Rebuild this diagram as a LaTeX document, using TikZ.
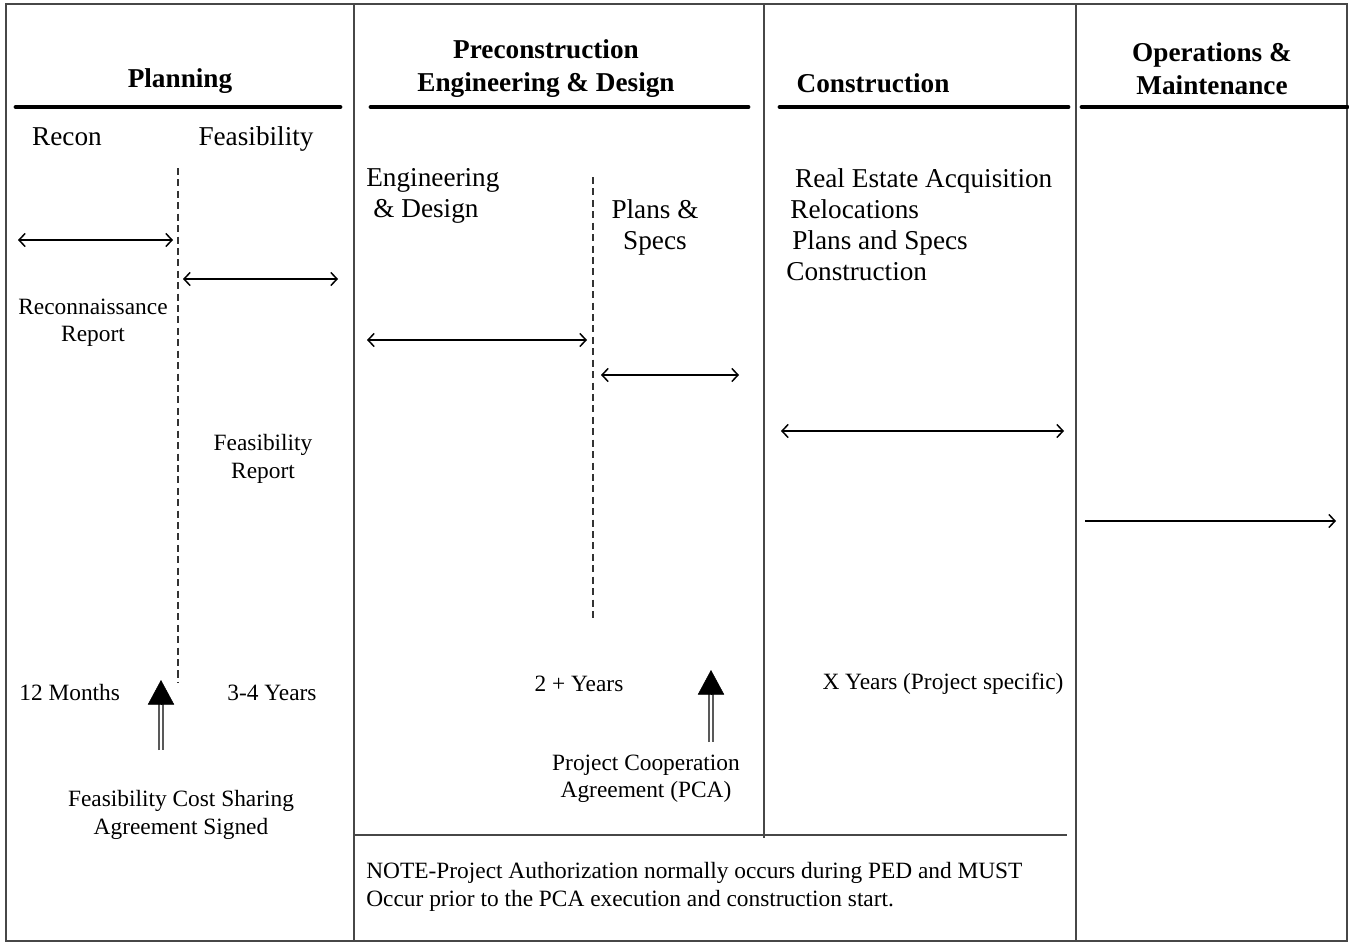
\documentclass[tikz,border=0pt]{standalone}
\usepackage{fontspec}
\setmainfont{Liberation Serif}
\usetikzlibrary{arrows.meta,positioning,calc}

\begin{document}
\begin{tikzpicture}[
  x=0.02cm, y=-0.02cm,
  inner sep=0pt,
  frame/.style={draw=black!72, line width=1.1pt},
  bar/.style={line width=2.8pt, line cap=round},
  phase/.style={font=\fontsize{15.5}{18.7}\selectfont\bfseries, align=center, yshift=-1.6pt},
  big/.style={font=\fontsize{15.5}{17.6}\selectfont, align=center, yshift=-1.6pt},
  small/.style={font=\fontsize{13.3}{15.5}\selectfont, align=center, yshift=-1.6pt},
  span/.style={{Straight Barb[length=3.5pt,width=7.5pt]}-{Straight Barb[length=3.5pt,width=7.5pt]}, line width=0.85pt},
  onward/.style={-{Straight Barb[length=3.5pt,width=7.5pt]}, line width=0.85pt},
  split/.style={dash pattern=on 4pt off 2.5pt, line width=0.8pt, draw=black!80},
  shaft/.style={draw=black!65, line width=1.1pt, double=white, double distance=1.2pt},
  head/.style={-{Triangle[width=15pt,length=14pt]}, line width=0.3pt}
]
  \useasboundingbox (0,0) rectangle (1349,943);

  % Frame and column rules
  \draw[frame] (6,4) rectangle (1347,941);
  \draw[frame] (354,4) -- (354,941);
  \draw[frame] (764,4) -- (764,838);
  \draw[frame] (1076,4) -- (1076,941);
  \draw[frame] (354,835) -- (1067,835);

  % Row 1: phase headings over thick bars
  \node[phase] (planning) at (180,78) {Planning};
  \node[phase] (ped) at (546,66) {Preconstruction\\Engineering \& Design};
  \node[phase] (constr) at (873,80) {Construction};
  \node[phase] (om) at (1212,66) {Operations \&\\Maintenance};
  \draw[bar] (16,107) -- (340,107);
  \draw[bar] (371,107) -- (748,107);
  \draw[bar] (780,107) -- (1068,107);
  \draw[bar] (1082,107) -- (1347,107);

  % Planning column
  \node[big] (recon) at (67,134) {Recon};
  \node[big] (feas) at (256,136) {Feasibility};
  \coordinate (recon split top) at (178,168);
  \coordinate (recon split bot) at (178,682);
  \draw[split] (recon split top) -- (recon split bot);
  \coordinate (recon w) at (18,240);
  \coordinate (recon e) at (173,240);
  \draw[span] (recon w) -- (recon e);
  \coordinate (feas w) at (183,279);
  \coordinate (feas e) at (338,279);
  \draw[span] (feas w) -- (feas e);
  \node[small] (reconrep) at (93,320) {Reconnaissance\\Report};
  \node[small] (feasrep) at (263,456) {Feasibility\\Report};
  \node[small, anchor=west] (twelve) at (19,690) {12 Months};
  \node[small] (threefour) at (272,690) {3-4 Years};
  \node[small] (fcsa) at (181,812) {Feasibility Cost Sharing\\Agreement Signed};

  % FCSA push arrow
  \coordinate (fcsa base) at (161,750);
  \coordinate (fcsa tip) at (161,680);
  \draw[shaft] (fcsa base) -- ($(fcsa tip)+(0,20)$);
  \draw[head] ($(fcsa tip)+(0,25)$) -- (fcsa tip);

  % PED column
  \node[big, anchor=west, align=left] (engdes) at (366,193) {Engineering\\\hspace*{4pt}\& Design};
  \node[big] (specs) at (655,225) {Plans \&\\Specs};
  \coordinate (ped split top) at (593,177);
  \coordinate (ped split bot) at (593,620);
  \draw[split] (ped split top) -- (ped split bot);
  \coordinate (engdes w) at (367,340);
  \coordinate (engdes e) at (587,340);
  \draw[span] (engdes w) -- (engdes e);
  \coordinate (specs w) at (601,375);
  \coordinate (specs e) at (739,375);
  \draw[span] (specs w) -- (specs e);
  \node[small] (twoplus) at (579,681) {2 + Years};
  \node[small] (pca) at (646,776) {Project Cooperation\\Agreement (PCA)};

  % PCA push arrow
  \coordinate (pca base) at (711,742);
  \coordinate (pca tip) at (711,670);
  \draw[shaft] (pca base) -- ($(pca tip)+(0,20)$);
  \draw[head] ($(pca tip)+(0,25)$) -- (pca tip);

  % Construction column
  \node[big, anchor=west, align=left] (tasks) at (786,222)
    {\hspace*{5pt}Real Estate Acquisition\\\hspace*{2.3pt}Relocations\\\hspace*{3.4pt}Plans and Specs\\Construction};
  \coordinate (constr w) at (781,431);
  \coordinate (constr e) at (1064,431);
  \draw[span] (constr w) -- (constr e);
  \node[small] (xyears) at (943,681) {X Years (Project specific)};

  % O&M column
  \coordinate (om w) at (1085,521);
  \coordinate (om e) at (1336,521);
  \draw[onward] (om w) -- (om e);

  % Note under PED and construction
  \node[small, anchor=west, align=left] (note) at (366,884)
    {NOTE-Project Authorization normally occurs during PED and MUST\\Occur prior to the PCA execution and construction start.};
\end{tikzpicture}
\end{document}
